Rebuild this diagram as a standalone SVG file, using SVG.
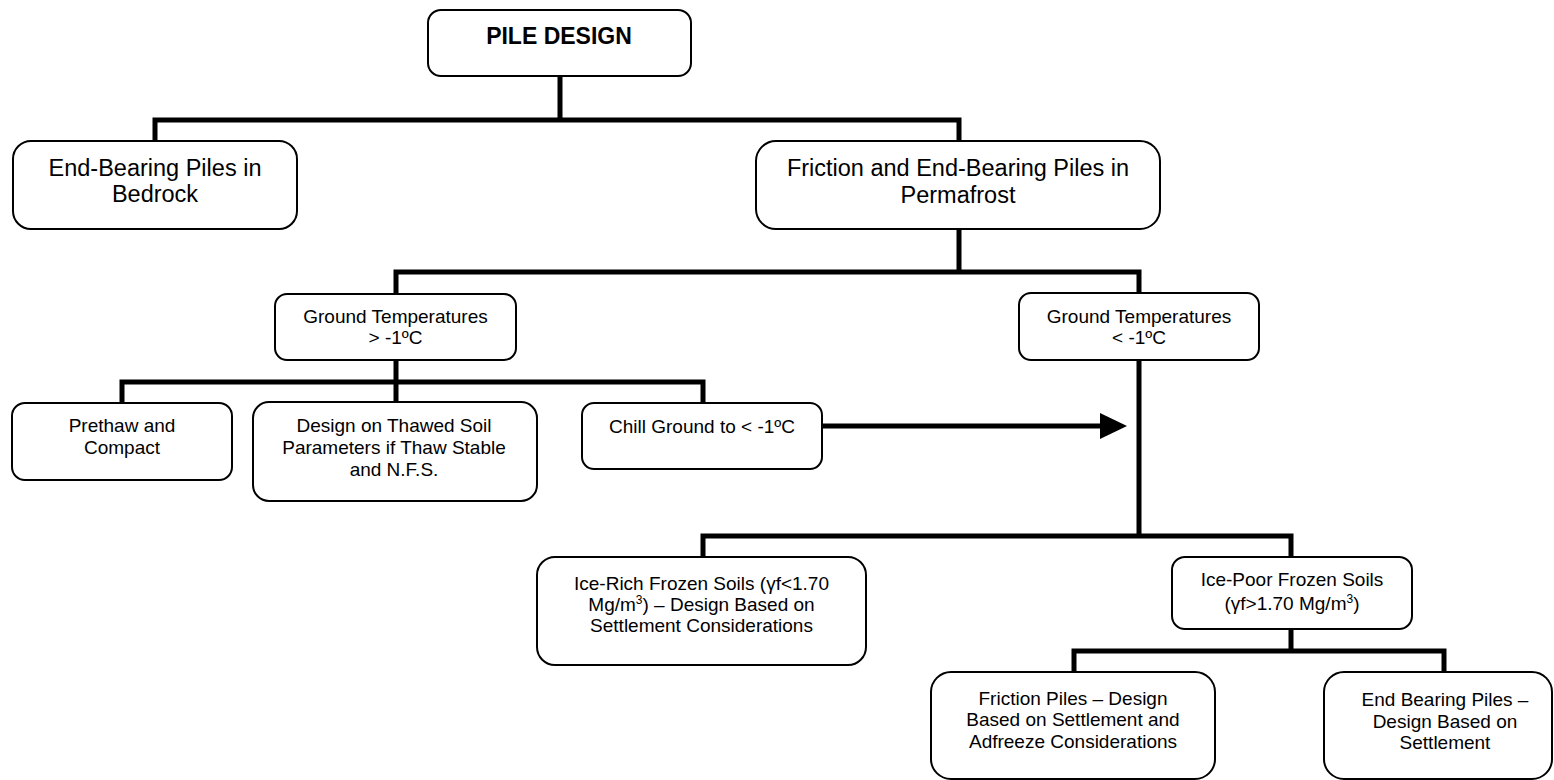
<svg xmlns="http://www.w3.org/2000/svg" width="1554" height="780" viewBox="0 0 1554 780">
<style>
.box{fill:#fff;stroke:#000;stroke-width:2}
.t{font-family:"Liberation Sans",Arial,sans-serif;text-anchor:middle;fill:#000}
.big{font-size:23.5px}
.sm{font-size:19px}
.title{font-size:23px;font-weight:bold}
.conn{fill:none;stroke:#000;stroke-width:5;stroke-linejoin:miter;stroke-linecap:butt}
</style>
<rect width="1554" height="780" fill="#fff"/>
<g id="connectors">
<path class="conn" d="M560,76 V120 M155,142 V120 H959 V142"/>
<path class="conn" d="M959,229 V272 M396,294 V272 H1139 V293"/>
<path class="conn" d="M396,360 V382 M122,403 V382 H703 V403 M396,382 V402"/>
<path class="conn" d="M822,426 H1102"/>
<polygon points="1100,413 1127,426 1100,439" fill="#000"/>
<path class="conn" d="M1139,360 V536 M703,557 V536 H1291 V557"/>
<path class="conn" d="M1291,629 V651 M1074,672 V651 H1444 V672"/>
</g>
<g id="pile-design">
<rect class="box" x="428" y="10" width="263" height="66" rx="13"/>
<text class="t title" x="559" y="44">PILE DESIGN</text>
</g>
<g id="end-bearing-bedrock">
<rect class="box" x="13" y="141" width="284" height="88" rx="18"/>
<text class="t big" x="155" y="176">End-Bearing Piles in</text>
<text class="t big" x="155" y="202">Bedrock</text>
</g>
<g id="friction-permafrost">
<rect class="box" x="756" y="141" width="404" height="88" rx="20"/>
<text class="t big" x="958" y="176">Friction and End-Bearing Piles in</text>
<text class="t big" x="958" y="203">Permafrost</text>
</g>
<g id="gt-above">
<rect class="box" x="275" y="294" width="241" height="66" rx="12"/>
<text class="t sm" x="395.5" y="322.5">Ground Temperatures</text>
<text class="t sm" x="395.5" y="344">&gt; -1ºC</text>
</g>
<g id="gt-below">
<rect class="box" x="1019" y="293" width="240" height="67" rx="12"/>
<text class="t sm" x="1139" y="322.5">Ground Temperatures</text>
<text class="t sm" x="1139" y="344">&lt; -1ºC</text>
</g>
<g id="prethaw">
<rect class="box" x="12" y="403" width="220" height="77" rx="13"/>
<text class="t sm" x="122" y="431.5">Prethaw and</text>
<text class="t sm" x="122" y="454">Compact</text>
</g>
<g id="thawed-design">
<rect class="box" x="253" y="402" width="284" height="99" rx="16"/>
<text class="t sm" x="394" y="432">Design on Thawed Soil</text>
<text class="t sm" x="394" y="454">Parameters if Thaw Stable</text>
<text class="t sm" x="394" y="476">and N.F.S.</text>
</g>
<g id="chill">
<rect class="box" x="582" y="403" width="240" height="66" rx="12"/>
<text class="t sm" x="702" y="432.5">Chill Ground to &lt; -1ºC</text>
</g>
<g id="ice-rich">
<rect class="box" x="537" y="557" width="329" height="108" rx="18"/>
<text class="t sm" x="701.5" y="589.5">Ice-Rich Frozen Soils (γf&lt;1.70</text>
<text class="t sm" x="701.5" y="611">Mg/m<tspan dy="-7" font-size="12">3</tspan><tspan dy="7">) – Design Based on</tspan></text>
<text class="t sm" x="701.5" y="632">Settlement Considerations</text>
</g>
<g id="ice-poor">
<rect class="box" x="1172" y="557" width="240" height="72" rx="13"/>
<text class="t sm" x="1292" y="586">Ice-Poor Frozen Soils</text>
<text class="t sm" x="1292" y="609.5">(γf&gt;1.70 Mg/m<tspan dy="-7" font-size="12">3</tspan><tspan dy="7">)</tspan></text>
</g>
<g id="friction-piles">
<rect class="box" x="931" y="672" width="284" height="107" rx="20"/>
<text class="t sm" x="1073" y="704.5">Friction Piles – Design</text>
<text class="t sm" x="1073" y="726">Based on Settlement and</text>
<text class="t sm" x="1073" y="747.5">Adfreeze Considerations</text>
</g>
<g id="end-bearing-piles">
<rect class="box" x="1324" y="672" width="228" height="107" rx="20"/>
<text class="t sm" x="1445" y="706">End Bearing Piles –</text>
<text class="t sm" x="1445" y="727.5">Design Based on</text>
<text class="t sm" x="1445" y="749">Settlement</text>
</g>
</svg>
